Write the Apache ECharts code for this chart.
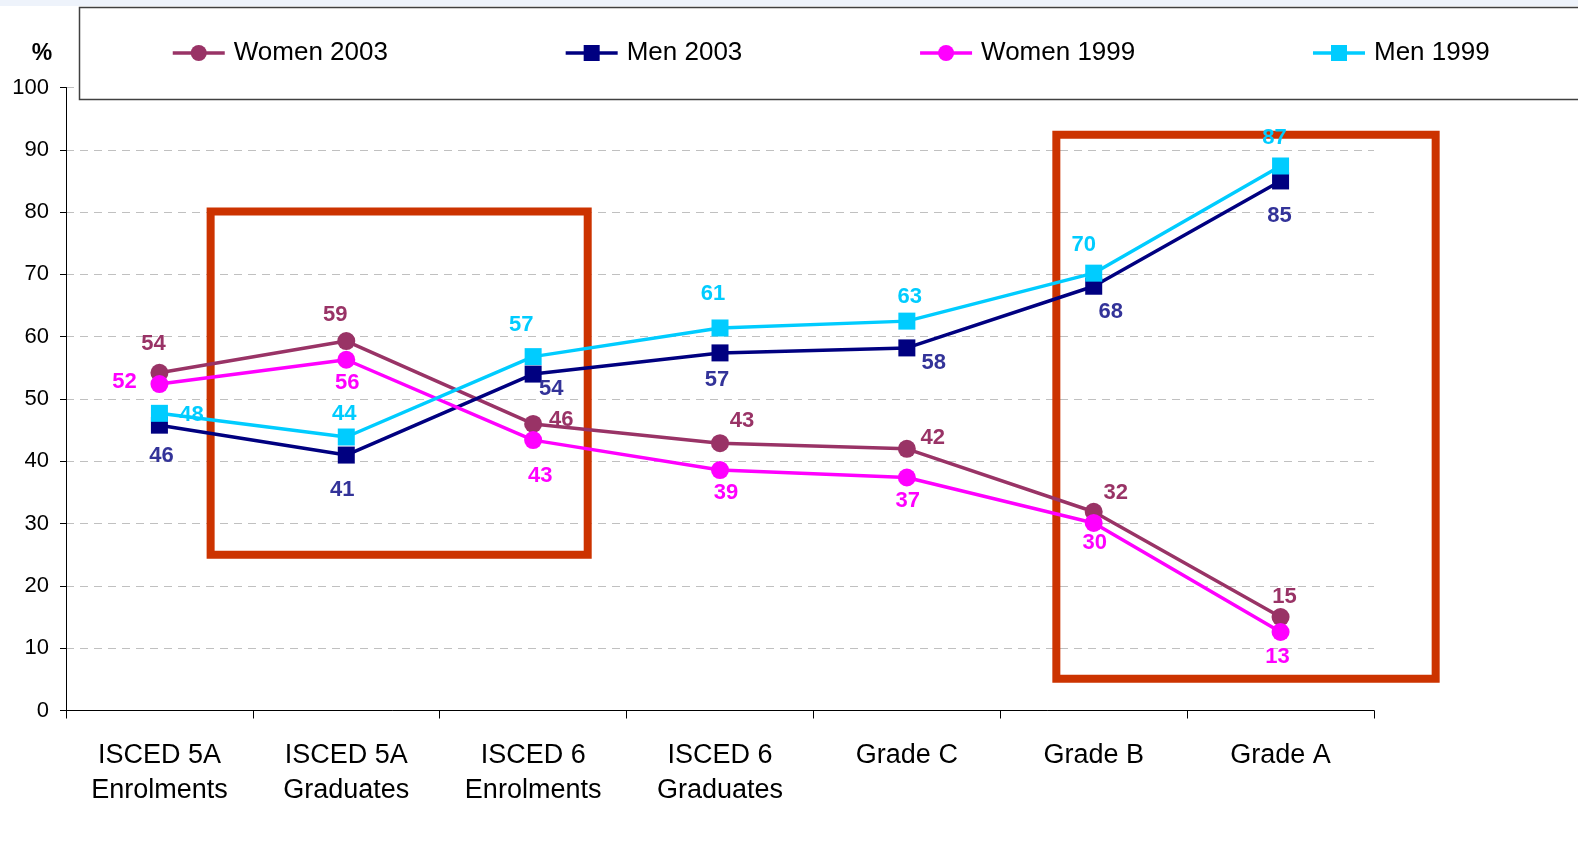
<!DOCTYPE html>
<html>
<head>
<meta charset="utf-8">
<script src="https://cdn.jsdelivr.net/npm/echarts/dist/echarts.min.js"></script>
<style>
  html, body { margin: 0; padding: 0; background: #fff; }
  #chart { width: 1578px; height: 850px; }
</style>
</head>
<body>
<div id="chart"></div>
<script>
const categories = ['ISCED 5A\nEnrolments', 'ISCED 5A\nGraduates', 'ISCED 6\nEnrolments', 'ISCED 6\nGraduates', 'Grade C', 'Grade B', 'Grade A']
const women2003 = [54.2, 59.3, 46.0, 42.9, 42.0, 31.9, 15.0]
const men2003 = [45.8, 41.0, 54.0, 57.4, 58.2, 68.1, 85.0]
const women1999 = [52.4, 56.3, 43.4, 38.6, 37.4, 30.1, 12.6]
const men1999 = [47.7, 43.9, 56.8, 61.4, 62.5, 70.2, 87.4]
const yTicks = [0, 100, 10] // min, max, step

// where each value label sits, relative to its point (px)
const women2003Off = [[-6, -29], [-11, -26], [28, -4], [22, -22], [26, -11], [22, -19], [4, -20]]
const men2003Off = [[2, 31], [-4, 35], [18, 15], [-3, 27], [27, 15], [17, 26], [-1, 35]]
const women1999Off = [[-35, -2], [1, 23], [7, 36], [6, 23], [1, 23], [1, 20], [-3, 25]]
const men1999Off = [[32, 2], [-2, -23], [-12, -32], [-7, -34], [3, -24], [-10, -28], [-6, -28]]

// red highlight boxes, in category units (x) and % (y)
const boxes = [
  { x: [0.774, 2.792], y: [80.1, 25.0] },
  { x: [5.30, 7.33], y: [92.4, 5.1] },
]

const font = '"Liberation Sans", Arial, sans-serif'

const makeSeries = (name, values, offsets, color, labelColor, symbol) => ({
  name,
  type: 'line',
  data: values.map((v, i) => ({ value: v, label: { offset: offsets[i] } })),
  symbol,
  symbolSize: symbol === 'circle' ? 18 : 17,
  lineStyle: { color, width: 3.5 },
  itemStyle: { color },
  label: {
    show: true,
    position: 'inside',
    color: labelColor,
    fontFamily: font,
    fontWeight: 'bold',
    fontSize: 22,
    formatter: (p) => Math.round(p.value),
  },
  emphasis: { disabled: true },
  z: 2,
})

const chart = echarts.init(document.getElementById('chart'))

const option = {
  animation: false,
  backgroundColor: '#fff',
  grid: { left: 66, right: 204, top: 87.5, bottom: 139.5 },
  legend: {
    top: 40,
    left: 171,
    itemGap: 176,
    itemWidth: 52,
    itemHeight: 20,
    padding: 0,
    z: 6,
    lineStyle: { width: 3.5 },
    textStyle: { fontFamily: font, fontSize: 26, color: '#000', padding: [0, 0, 0, 4] },
    data: ['Women 2003', 'Men 2003', 'Women 1999', 'Men 1999'],
  },
  xAxis: [
    {
      type: 'category',
      data: categories,
      boundaryGap: true,
      axisLine: { lineStyle: { color: '#000', width: 1 } },
      axisTick: { show: true, length: 8, interval: 0, lineStyle: { color: '#000' } },
      axisLabel: {
        interval: 0,
        margin: 28,
        color: '#000',
        fontFamily: font,
        fontSize: 27,
        lineHeight: 35,
      },
      splitLine: { show: false },
    },
    { type: 'value', min: 0, max: 7, show: false },
  ],
  yAxis: {
    type: 'value',
    min: yTicks[0],
    max: yTicks[1],
    interval: yTicks[2],
    axisLine: { show: true, lineStyle: { color: '#000', width: 1 } },
    axisTick: { show: true, length: 6, lineStyle: { color: '#000' } },
    axisLabel: { margin: 17, color: '#000', fontFamily: font, fontSize: 22 },
    splitLine: { show: true, lineStyle: { color: '#c0c0c0', type: [8, 6], width: 1 } },
  },
  series: [
    makeSeries('Women 2003', women2003, women2003Off, '#993366', '#993366', 'circle'),
    makeSeries('Men 2003', men2003, men2003Off, '#000080', '#333399', 'rect'),
    makeSeries('Women 1999', women1999, women1999Off, '#FF00FF', '#FF00FF', 'circle'),
    makeSeries('Men 1999', men1999, men1999Off, '#00CCFF', '#00CCFF', 'rect'),
  ],
}

chart.setOption(option)

// frame pieces: top band, legend box, % label, and the red highlight boxes
const graphics = [
  { type: 'rect', z: 5, shape: { x: 0, y: 0, width: 1578, height: 6 }, style: { fill: '#EEF3FB' } },
  {
    type: 'rect', z: 5,
    shape: { x: 79.5, y: 7.5, width: 1600, height: 92 },
    style: { fill: '#fff', stroke: '#404040', lineWidth: 1.5 },
  },
  {
    type: 'text', z: 5, x: 42, y: 54,
    style: { text: '%', fontFamily: font, fontWeight: 'bold', fontSize: 23, fill: '#000', align: 'center', verticalAlign: 'middle' },
  },
]
boxes.forEach((b) => {
  const x0 = chart.convertToPixel({ xAxisIndex: 1 }, b.x[0])
  const x1 = chart.convertToPixel({ xAxisIndex: 1 }, b.x[1])
  const y0 = chart.convertToPixel({ yAxisIndex: 0 }, b.y[0])
  const y1 = chart.convertToPixel({ yAxisIndex: 0 }, b.y[1])
  graphics.push({
    type: 'rect',
    z: 1,
    shape: { x: x0, y: y0, width: x1 - x0, height: y1 - y0 },
    style: { fill: 'none', stroke: '#CC3300', lineWidth: 8 },
  })
})
chart.setOption({ graphic: graphics })
</script>
</body>
</html>
